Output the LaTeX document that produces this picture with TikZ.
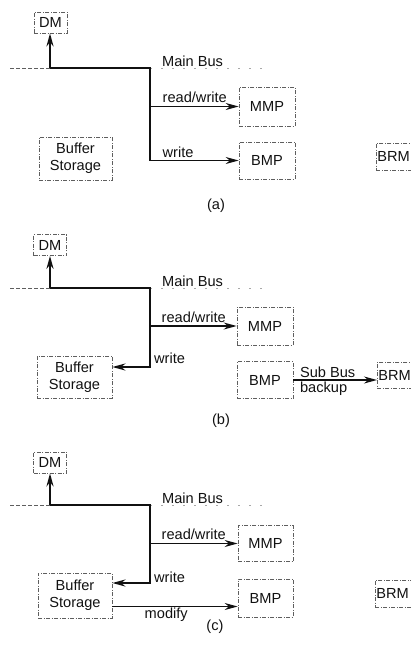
\documentclass[tikz,border=0pt]{standalone}
\usepackage{fontspec}
\setmainfont{Liberation Sans}
\usetikzlibrary{arrows.meta}
\definecolor{ink}{HTML}{111111}
\definecolor{faint}{HTML}{5e5e5e}
\definecolor{ghost}{HTML}{a8a8a8}

\begin{document}
\begin{tikzpicture}[x=1pt, y=-1pt, font=\fontsize{14.6}{17}\selectfont,
  box/.style={draw=faint, line width=0.7pt, dash pattern=on 4pt off 1.5pt on 1pt off 1.5pt, inner sep=1pt, align=center, text=ink},
  brm/.style={box, anchor=west, text width=40pt, align=left, minimum height=27pt},
  bus/.style={ink, line width=2.2pt},
  tip/.style={-{Stealth[length=13pt, width=7pt]}},
  feed/.style={ink, line width=1.4pt, tip},
  tail/.style={faint, line width=0.8pt, dash pattern=on 4pt off 2pt},
  fade/.style={ghost, line width=0.6pt, dash pattern=on 2pt off 9pt},
  lbl/.style={inner sep=1pt, text=ink}]
  \useasboundingbox (0,0) rectangle (411,645);
  \clip (0,0) rectangle (411,645);

  % (a)
  \node[box, minimum width=33pt, minimum height=21pt] (dma) at (50.5,22.5) {DM};
  \node[box, minimum width=56pt, minimum height=39pt] (mmpa) at (267,106.5) {MMP};
  \node[box, minimum width=56pt, minimum height=37pt] (bmpa) at (267,160.5) {BMP};
  \node[box, minimum width=73pt, minimum height=43pt] (bufa) at (75.5,158.5) {Buffer\\Storage};
  \node[brm] (brma) at (376,156.5) {BRM};
  \coordinate (taila) at (10,68);
  \coordinate (tapa) at (50,68);
  \coordinate (turna) at (150,68);
  \coordinate (enda) at (262,68);
  \node[lbl, anchor=base west] (busa) at (161,66) {Main Bus};
  \draw[tail] (taila) -- (tapa);
  \draw[fade] (turna) -- (enda);
  \draw[bus] (tapa) -- (turna) -- (turna |- bmpa.west);
  \draw[bus, tip] (tapa) -- (tapa |- dma.south);
  \draw[feed] (turna |- mmpa.west) -- (mmpa.west)
    node[lbl, pos=0, anchor=base west, xshift=11pt, yshift=4pt] {read/write};
  \draw[feed] (turna |- bmpa.west) -- (bmpa.west)
    node[lbl, pos=0, anchor=base west, xshift=11pt, yshift=3.5pt] {write};
  \node[lbl] (capa) at (216,206) {(a)};

  % (b)
  \node[box, minimum width=33pt, minimum height=21pt] (dmb) at (50,245) {DM};
  \node[box, minimum width=56pt, minimum height=38pt] (mmpb) at (265,326) {MMP};
  \node[box, minimum width=56pt, minimum height=37pt] (bmpb) at (265,380) {BMP};
  \node[box, minimum width=75pt, minimum height=42pt] (bufb) at (74.5,377) {Buffer\\Storage};
  \node[brm, minimum height=26pt] (brmb) at (377,375) {BRM};
  \coordinate (tailb) at (10,288);
  \coordinate (tapb) at (50,288);
  \coordinate (turnb) at (150,288);
  \coordinate (endb) at (262,288);
  \coordinate (wrb) at (150,367);
  \node[lbl, anchor=base west] (busb) at (161,286) {Main Bus};
  \draw[tail] (tailb) -- (tapb);
  \draw[fade] (turnb) -- (endb);
  \draw[bus, tip] (tapb) -- (turnb) -- (wrb) -- (wrb -| bufb.east);
  \draw[bus, tip] (tapb) -- (tapb |- dmb.south);
  \draw[feed] (turnb |- mmpb.west) -- (mmpb.west)
    node[lbl, pos=0, anchor=base west, xshift=10pt, yshift=4pt] {read/write};
  \node[lbl, anchor=base west] (wlb) at (153,363) {write};
  \draw[feed] (bmpb.east) -- (bmpb.east -| brmb.west)
    node[lbl, pos=0, anchor=base west, xshift=5pt, yshift=3pt] {Sub Bus}
    node[lbl, pos=0, anchor=north west, xshift=5pt] {backup};
  \node[lbl] (capb) at (221,421) {(b)};

  % (c)
  \node[box, minimum width=33pt, minimum height=21pt] (dmc) at (50,462.5) {DM};
  \node[box, minimum width=55pt, minimum height=36pt] (mmpc) at (265.5,543.5) {MMP};
  \node[box, minimum width=55pt, minimum height=38pt] (bmpc) at (265.5,598) {BMP};
  \node[box, minimum width=74pt, minimum height=45pt] (bufc) at (75,595.5) {Buffer\\Storage};
  \node[brm] (brmc) at (375,593.5) {BRM};
  \coordinate (tailc) at (10,505);
  \coordinate (tapc) at (50,505);
  \coordinate (turnc) at (150,505);
  \coordinate (endc) at (262,505);
  \coordinate (wrc) at (150,583);
  \node[lbl, anchor=base west] (busc) at (161,503) {Main Bus};
  \draw[tail] (tailc) -- (tapc);
  \draw[fade] (turnc) -- (endc);
  \draw[bus, tip] (tapc) -- (turnc) -- (wrc) -- (wrc -| bufc.east);
  \draw[bus, tip] (tapc) -- (tapc |- dmc.south);
  \draw[feed] (turnc |- mmpc.west) -- (mmpc.west)
    node[lbl, pos=0, anchor=base west, xshift=10pt, yshift=4pt] {read/write};
  \node[lbl, anchor=base west] (wlc) at (153,582) {write};
  \draw[feed, line width=1.1pt] ([yshift=-11pt]bufc.east) -- ([yshift=-11pt]bufc.east -| bmpc.west)
    node[lbl, pos=0.43, below] {modify};
  \node[lbl] (capc) at (215,626.5) {(c)};
\end{tikzpicture}
\end{document}
